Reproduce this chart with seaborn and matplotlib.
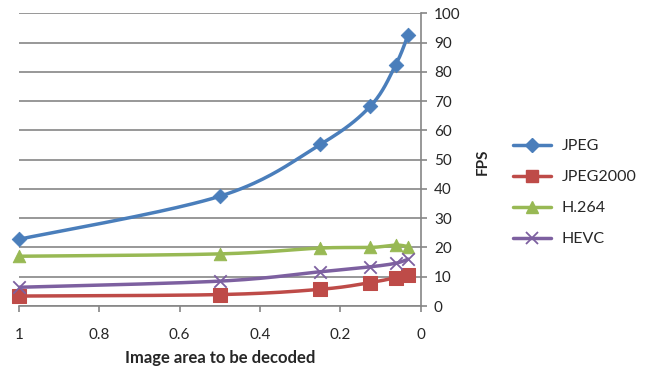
import numpy as np
import pandas as pd
import matplotlib
matplotlib.use("Agg")
import matplotlib.pyplot as plt
from matplotlib.lines import Line2D
import seaborn as sns

# Fraction of the image area that is decoded, and the resulting frame rate
area = [1.0, 0.5, 0.25, 0.125, 0.0625, 0.03125]
fps_jpeg = [22.8, 37.5, 55.2, 68.3, 82.3, 92.7]
fps_jpeg2000 = [3.4, 3.9, 5.7, 8.0, 9.7, 10.6]
fps_h264 = [17.0, 17.8, 19.8, 20.0, 20.8, 20.3]
fps_hevc = [6.4, 8.5, 11.7, 13.4, 14.6, 16.0]

codecs = ["JPEG", "JPEG2000", "H.264", "HEVC"]
x_ticks = [1, 0.8, 0.6, 0.4, 0.2, 0]
x_ticklabels = ["1", "0.8", "0.6", "0.4", "0.2", "0"]
y_ticks = list(range(0, 101, 10))

colors = {"JPEG": "#4A7EBB", "JPEG2000": "#BE4B48", "H.264": "#98B954", "HEVC": "#7D60A0"}
markers = {"JPEG": "D", "JPEG2000": "s", "H.264": "^", "HEVC": "x"}
msizes = {"JPEG": 55, "JPEG2000": 90, "H.264": 80, "HEVC": 80}

sns.set_theme(style="white")
plt.rcParams["font.family"] = ["Lato", "DejaVu Sans"]

df = pd.DataFrame({
    "area": area * 4,
    "fps": fps_jpeg + fps_jpeg2000 + fps_h264 + fps_hevc,
    "codec": np.repeat(codecs, len(area)),
})

fig = plt.figure(figsize=(6.51, 3.69), dpi=100)
ax = fig.add_axes([19 / 651, 1 - 306 / 369, (420.7 - 19) / 651, (306 - 13.3) / 369])
ax.set_xlim(1, 0)
ax.set_ylim(0, 100)


def smooth_curve(xs, ys, n=40):
    """Bezier smoothing (Excel style) computed in screen space."""
    pts = ax.transData.transform(np.column_stack([xs, ys]))
    m = len(pts)
    out = []
    for i in range(m - 1):
        p0 = pts[i - 1] if i > 0 else pts[i]
        p1, p2 = pts[i], pts[i + 1]
        p3 = pts[i + 2] if i + 2 < m else pts[i + 1]
        c1 = p1 + (p2 - p0) / 6
        c2 = p2 - (p3 - p1) / 6
        t = np.linspace(0, 1, n)[:, None]
        seg = ((1 - t) ** 3) * p1 + 3 * ((1 - t) ** 2) * t * c1 + 3 * (1 - t) * t ** 2 * c2 + t ** 3 * p2
        out.append(seg if i == 0 else seg[1:])
    out = np.vstack(out)
    return ax.transData.inverted().transform(out)


for codec in codecs:
    sub = df[df["codec"] == codec]
    curve = smooth_curve(sub["area"].values, sub["fps"].values)
    cdf = pd.DataFrame({"x": curve[:, 0], "y": curve[:, 1]})
    sns.lineplot(data=cdf, x="x", y="y", sort=False, ax=ax, color=colors[codec],
                 linewidth=2.5, estimator=None, zorder=3)
for codec in codecs:
    sub = df[df["codec"] == codec]
    kw = dict(edgecolor=colors[codec]) if markers[codec] != "x" else dict(linewidth=1.3)
    sns.scatterplot(data=sub, x="area", y="fps", ax=ax, marker=markers[codec],
                    s=msizes[codec], color=colors[codec], zorder=4, clip_on=False, **kw)

grid_c = "#868686"
ax.set_yticks(y_ticks)
ax.set_xticks(x_ticks)
ax.set_xticklabels(x_ticklabels)
ax.yaxis.tick_right()
ax.yaxis.set_label_position("right")
ax.grid(axis="y", color=grid_c, linewidth=1.2)
ax.grid(axis="x", visible=False)
for side in ["left", "top"]:
    ax.spines[side].set_visible(False)
for side in ["right", "bottom"]:
    ax.spines[side].set_color(grid_c)
    ax.spines[side].set_linewidth(1.2)
ax.tick_params(axis="y", which="major", direction="out", length=4.5, width=1.2,
               color=grid_c, labelsize=11, pad=5, right=True, left=False)
ax.tick_params(axis="x", which="major", direction="out", length=4.5, width=1.2,
               color=grid_c, labelsize=11, pad=11, bottom=True)
ax.set_xlabel("Image area to be decoded", fontsize=12, fontweight="bold", labelpad=6)
ax.set_ylabel("")
if ax.get_legend():
    ax.get_legend().remove()

fig.text(483 / 651, 1 - 161.7 / 369, "FPS", rotation=90, fontsize=11,
         fontweight="bold", ha="center", va="center")

handles = []
for codec in codecs:
    if markers[codec] == "x":
        h = Line2D([], [], color=colors[codec], linewidth=2.5, marker="x",
                   markersize=9, markeredgewidth=1.3)
    else:
        h = Line2D([], [], color=colors[codec], linewidth=2.5, marker=markers[codec],
                   markersize=7 if markers[codec] == "D" else 8.5,
                   markeredgecolor=colors[codec])
    handles.append(h)
fig.legend(handles, codecs, loc="center left", bbox_to_anchor=(513 / 651, 1 - 192.7 / 369),
           frameon=False, fontsize=11.5, labelspacing=1.05, handlelength=2.4,
           handletextpad=0.65, borderpad=0, borderaxespad=0)

fig.savefig("out.png", dpi=100)
